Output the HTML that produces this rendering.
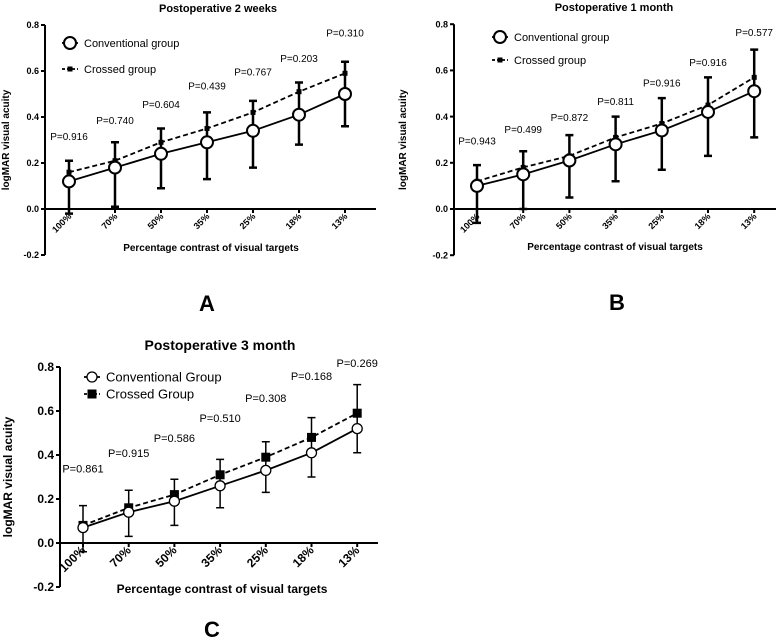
<!DOCTYPE html>
<html><head><meta charset="utf-8"><style>
body{margin:0;background:#fff;}
svg{display:block;font-family:"Liberation Sans",Arial,sans-serif;}
</style></head><body>
<svg id="fig" width="778" height="639"></svg>
<script>
const categories=["100%","70%","50%","35%","25%","18%","13%"];
const aConv=[0.12,0.18,0.24,0.29,0.34,0.41,0.50];
const aCross=[0.16,0.21,0.29,0.35,0.42,0.51,0.59];
const aUpper=[0.21,0.29,0.35,0.42,0.47,0.55,0.64];
const aLower=[-0.02,0.01,0.09,0.13,0.18,0.28,0.36];
const aP=["P=0.916","P=0.740","P=0.604","P=0.439","P=0.767","P=0.203","P=0.310"];
const aPLevel=[0.30,0.37,0.44,0.52,0.58,0.64,0.75];
const bConv=[0.10,0.15,0.21,0.28,0.34,0.42,0.51];
const bCross=[0.12,0.18,0.23,0.31,0.37,0.45,0.57];
const bUpper=[0.19,0.25,0.32,0.40,0.48,0.57,0.69];
const bLower=[-0.06,0.00,0.05,0.12,0.17,0.23,0.31];
const bP=["P=0.943","P=0.499","P=0.872","P=0.811","P=0.916","P=0.916","P=0.577"];
const bPLevel=[0.28,0.33,0.38,0.45,0.53,0.62,0.75];
const cConv=[0.07,0.14,0.19,0.26,0.33,0.41,0.52];
const cCross=[0.08,0.16,0.22,0.31,0.39,0.48,0.59];
const cUpper=[0.17,0.24,0.29,0.38,0.46,0.57,0.72];
const cLower=[-0.04,0.03,0.08,0.16,0.23,0.30,0.41];
const cP=["P=0.861","P=0.915","P=0.586","P=0.510","P=0.308","P=0.168","P=0.269"];
const cPLevel=[0.32,0.39,0.46,0.55,0.64,0.74,0.80];
const yTicks=[0.8,0.6,0.4,0.2,0.0,-0.2];
const NS="http://www.w3.org/2000/svg";
const svg=document.getElementById('fig');
function el(parent,tag,attrs,text){const e=document.createElementNS(NS,tag);for(const k in attrs)e.setAttribute(k,attrs[k]);if(text!==undefined)e.textContent=text;parent.appendChild(e);return e;}
function panel(o){
  const g=el(svg,'g',{});
  
  
  const Y=v=>o.y0-v*o.sy;
  const X=i=>o.x0+i*o.dx;
  const t=el(g,'text',{x:o.tx,y:o.ty,'text-anchor':'middle','font-size':o.tf,'font-weight':'bold'},o.title);
  
  const ya=el(g,'line',{x1:o.ax,y1:Y(0.8),x2:o.ax,y2:Y(-0.2),stroke:'#000','stroke-width':2});
  
  const xa=el(g,'line',{x1:o.ax,y1:Y(0),x2:o.xend,y2:Y(0),stroke:'#000','stroke-width':2});
  
  yTicks.forEach(v=>{
    el(g,'line',{x1:o.ax-4,y1:Y(v),x2:o.ax,y2:Y(v),stroke:'#000','stroke-width':2});
    const l=el(g,'text',{x:o.ax-6,y:Y(v)+o.kf*0.35,'text-anchor':'end','font-size':o.kf,'font-weight':'bold'},v.toFixed(1));
    
  });
  categories.forEach((c,i)=>{
    el(g,'line',{x1:X(i),y1:Y(0),x2:X(i),y2:Y(0)+4,stroke:'#000','stroke-width':2});
    const l=el(g,'text',{x:X(i)+3,y:Y(0)+8,'text-anchor':'end','font-size':o.kf,'font-weight':'bold',transform:`rotate(-45 ${X(i)+3} ${Y(0)+8})`},c);
    
  });
  const yl=el(g,'text',{x:o.ylx,y:(Y(0.8)+Y(-0.2))/2,'text-anchor':'middle','font-size':o.lf,'font-weight':'bold',transform:`rotate(-90 ${o.ylx} ${(Y(0.8)+Y(-0.2))/2})`},'logMAR visual acuity');
  
  const xl=el(g,'text',{x:o.xlx,y:o.xly,'text-anchor':'middle','font-size':o.lf,'font-weight':'bold'},'Percentage contrast of visual targets');
  
  categories.forEach((c,i)=>{
    const e=el(g,'path',{d:`M${X(i)},${Y(o.upper[i])}V${Y(o.lower[i])}M${X(i)-4},${Y(o.upper[i])}h8M${X(i)-4},${Y(o.lower[i])}h8`,stroke:'#000','stroke-width':o.ew,fill:'none'});
    
    const p=el(g,'text',{x:X(i),y:Y(o.pl[i]),'text-anchor':'middle','font-size':o.pf},o.p[i]);
    
  });
  const cl=el(g,'polyline',{points:o.cross.map((v,i)=>X(i)+','+Y(v)).join(' '),fill:'none',stroke:'#000','stroke-width':o.lw,'stroke-dasharray':'5,3'});
  
  const vl=el(g,'polyline',{points:o.conv.map((v,i)=>X(i)+','+Y(v)).join(' '),fill:'none',stroke:'#000','stroke-width':o.lw});
  
  o.cross.forEach((v,i)=>{const s=el(g,'rect',{x:X(i)-o.sq/2,y:Y(v)-o.sq/2,width:o.sq,height:o.sq,fill:'#000'});
    });
  o.conv.forEach((v,i)=>{const s=el(g,'circle',{cx:X(i),cy:Y(v),r:o.cr,fill:'#fff',stroke:'#000','stroke-width':o.cw});
    });
  const lg=el(g,'g',{});
  el(lg,'line',{x1:o.lgx-8,y1:o.lgy1,x2:o.lgx+8,y2:o.lgy1,stroke:'#000','stroke-width':o.lw});
  el(lg,'circle',{cx:o.lgx,cy:o.lgy1,r:o.cr,fill:'#fff',stroke:'#000','stroke-width':o.cw});
  el(lg,'text',{x:o.lgx+14,y:o.lgy1+o.gf*0.35,'font-size':o.gf},o.n1);
  el(lg,'line',{x1:o.lgx-8,y1:o.lgy2,x2:o.lgx+8,y2:o.lgy2,stroke:'#000','stroke-width':o.lw,'stroke-dasharray':'3,2'});
  el(lg,'rect',{x:o.lgx-o.sq/2,y:o.lgy2-o.sq/2,width:o.sq,height:o.sq,fill:'#000'});
  el(lg,'text',{x:o.lgx+14,y:o.lgy2+o.gf*0.35,'font-size':o.gf},o.n2);
  const L=el(g,'text',{x:o.lx,y:o.ly,'text-anchor':'middle','font-size':22,'font-weight':'bold'},o.letter);
  
}
panel({letter:'A',title:'Postoperative 2 weeks',tx:218,ty:12,tf:11,x0:69,dx:46,y0:209,sy:230,ax:45,xend:376,kf:9,lf:10,pf:10,ylx:9,xlx:211,xly:251,
 conv:aConv,cross:aCross,upper:aUpper,lower:aLower,p:aP,pl:aPLevel,ew:2.5,lw:1.8,sq:5,cr:6,cw:2,
 lgx:70,lgy1:43,lgy2:69,gf:11,n1:'Conventional group',n2:'Crossed group',lx:207,ly:311});
panel({letter:'B',title:'Postoperative 1 month',tx:614,ty:11,tf:11,x0:477,dx:46.2,y0:209,sy:231,ax:454,xend:776,kf:9,lf:10,pf:10,ylx:406,xlx:615,xly:250,
 conv:bConv,cross:bCross,upper:bUpper,lower:bLower,p:bP,pl:bPLevel,ew:2.5,lw:1.8,sq:5,cr:6,cw:2,
 lgx:500,lgy1:37,lgy2:60,gf:11,n1:'Conventional group',n2:'Crossed group',lx:617,ly:310});
panel({letter:'C',title:'Postoperative 3 month',tx:220,ty:350,tf:14,x0:83,dx:45.7,y0:543,sy:220,ax:60,xend:378,kf:12,lf:12,pf:11,ylx:12,xlx:222,xly:593,
 conv:cConv,cross:cCross,upper:cUpper,lower:cLower,p:cP,pl:cPLevel,ew:1.5,lw:1.8,sq:9,cr:5,cw:1.3,
 lgx:92,lgy1:377,lgy2:394,gf:13,n1:'Conventional Group',n2:'Crossed Group',lx:212,ly:637});
</script>
</body></html>
